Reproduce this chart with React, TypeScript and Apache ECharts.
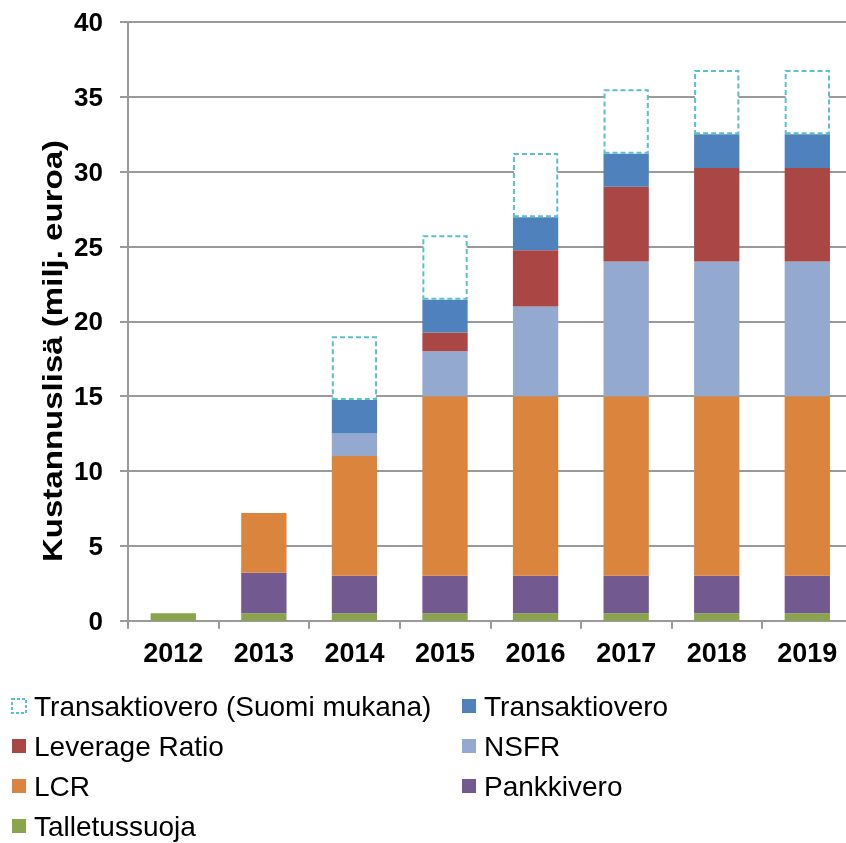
import React, { useEffect, useRef } from "react";
import * as echarts from "echarts";

const years = ["2012", "2013", "2014", "2015", "2016", "2017", "2018", "2019"];
const talletussuoja = [0.5, 0.5, 0.5, 0.5, 0.5, 0.5, 0.5, 0.5];
const pankkivero = [null, 2.7, 2.5, 2.5, 2.5, 2.5, 2.5, 2.5];
const lcr = [null, 4.0, 8, 12, 12, 12, 12, 12];
const nsfr = [null, null, 1.5, 3, 6, 9, 9, 9];
const leverage = [null, null, null, 1.25, 3.75, 5, 6.25, 6.25];
const transaktiovero = [null, null, 2.25, 2.2, 2.2, 2.2, 2.25, 2.25];
const suomiMukana = [null, null, 4.25, 4.3, 4.3, 4.3, 4.3, 4.3];
const yTicks = { min: 0, max: 40, interval: 5 };

const FONT = '"Liberation Sans", Arial, sans-serif';

export default function App() {
  const ref = useRef<HTMLDivElement>(null);
  useEffect(() => {
    if (!ref.current) return;
    const chart = echarts.init(ref.current, null, { renderer: "svg" });
    const gridColor = "#9a9a9a";
    const bar = (name: string, data: any[], color: string, extra: any = {}) => ({
      name,
      type: "bar",
      stack: "total",
      barWidth: "50%",
      data,
      itemStyle: { color, ...extra },
      emphasis: { disabled: true },
    });
    const legendBase = {
      orient: "vertical",
      top: 692,
      height: 150,
      padding: 0,
      itemWidth: 14,
      itemHeight: 14,
      itemGap: 12,
      icon: "rect",
      selectedMode: false,
      textStyle: { color: "#000", fontSize: 28, lineHeight: 28, fontFamily: FONT, padding: [0, 0, 0, 3] },
    };
    chart.setOption({
      animation: false,
      textStyle: { fontFamily: FONT },
      grid: { left: 128, top: 22, width: 724.6, height: 598.7, containLabel: false },
      xAxis: {
        type: "category",
        data: years,
        axisLine: { show: true, lineStyle: { color: gridColor, width: 2 } },
        axisTick: { show: true, length: 8, lineStyle: { color: gridColor, width: 2 } },
        axisLabel: { color: "#000", fontWeight: "bold", fontSize: 27, fontFamily: FONT, margin: 19 },
        splitLine: { show: false },
      },
      yAxis: {
        type: "value",
        min: yTicks.min,
        max: yTicks.max,
        interval: yTicks.interval,
        axisLine: { show: true, lineStyle: { color: gridColor, width: 2 } },
        axisTick: { show: true, length: 8, lineStyle: { color: gridColor, width: 2 } },
        axisLabel: { color: "#000", fontWeight: "bold", fontSize: 26, fontFamily: FONT, margin: 25 },
        splitLine: { show: true, lineStyle: { color: gridColor, width: 2 } },
      },
      legend: [
        {
          ...legendBase,
          left: 11,
          data: [
            {
              name: "Transaktiovero (Suomi mukana)",
              itemStyle: { color: "#ffffff", borderColor: "#5bbfcc", borderWidth: 2, borderType: [3, 2] },
            },
            "Leverage Ratio",
            "LCR",
            "Talletussuoja",
          ],
        },
        {
          ...legendBase,
          left: 462,
          data: ["Transaktiovero", "NSFR", "Pankkivero"],
        },
      ],
      graphic: [
        {
          type: "text",
          x: 52,
          y: 351,
          rotation: Math.PI / 2,
          scaleX: 1.18,
          style: {
            text: "Kustannuslisä (milj. euroa)",
            font: `bold 28px ${FONT}`,
            fill: "#000",
            textAlign: "center",
            textVerticalAlign: "middle",
          },
        },
      ],
      series: [
        bar("Talletussuoja", talletussuoja, "#8aa44d"),
        bar("Pankkivero", pankkivero, "#72598f"),
        bar("LCR", lcr, "#db843d"),
        bar("NSFR", nsfr, "#93a9cf"),
        bar("Leverage Ratio", leverage, "#aa4643"),
        bar("Transaktiovero", transaktiovero, "#4f81bd"),
        bar("Transaktiovero (Suomi mukana)", suomiMukana, "#ffffff", {
          borderColor: "#5bbfcc",
          borderWidth: 2,
          borderType: [5, 3],
        }),
      ],
    });
    return () => chart.dispose();
  }, []);
  return (
    <div
      ref={ref}
      style={{ position: "fixed", left: 0, top: 0, width: 860, height: 843 }}
    />
  );
}
